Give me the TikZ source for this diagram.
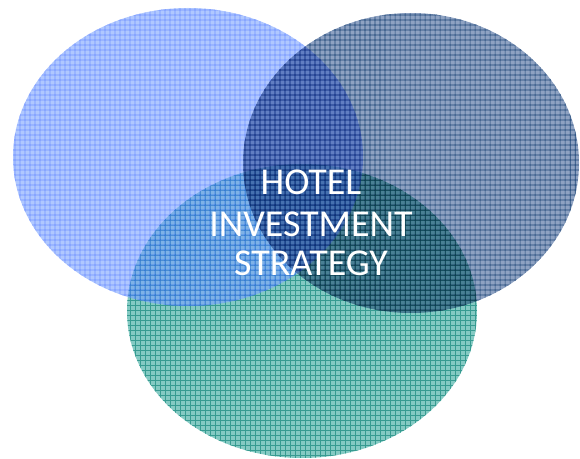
\documentclass[tikz,border=0pt]{standalone}
\usepackage{fontspec}
\setmainfont{Carlito}
\usepackage{tikz}
\usetikzlibrary{backgrounds}
\definecolor{leftfill}{RGB}{123,163,255}
\definecolor{leftgrid}{RGB}{20,75,255}
\definecolor{rightfill}{RGB}{142,162,194}
\definecolor{rightgrid}{RGB}{30,70,120}
\definecolor{lowfill}{RGB}{132,202,195}
\definecolor{lowgrid}{RGB}{55,155,145}
\tikzstyle{gridlines}=[line width=0.5pt]
\tikzstyle{titletext}=[text=white,font=\fontsize{27}{30}\selectfont,anchor=base,inner sep=0pt]

\begin{document}
\begin{tikzpicture}[x=0.025cm,y=-0.025cm]
		\useasboundingbox (0,0) rectangle (580,459);
		% lower circle
		\begin{scope}
		\clip (302,311) ellipse (175 and 147);
		\fill[lowfill] (0,0) rectangle (580,459);
		\draw[gridlines,lowgrid,step=0.125cm] (0,0) grid (580,459);
		\end{scope}
		% left circle
		\begin{scope}[opacity=0.6]
		\begin{scope}[transparency group]
		\clip (188,157) ellipse (175 and 149);
		\fill[leftfill] (0,0) rectangle (580,459);
		\draw[gridlines,leftgrid,step=0.125cm] (0,0) grid (580,459);
		\end{scope}
		\end{scope}
		% right circle
		\begin{scope}[blend mode=multiply]
		\begin{scope}[transparency group]
		\clip (411,163) ellipse (168 and 150);
		\fill[rightfill] (0,0) rectangle (580,459);
		\draw[gridlines,rightgrid,step=0.125cm] (0,0) grid (580,459);
		\end{scope}
		\end{scope}
		\node[titletext] (hotel) at (311,195) {HOTEL};
		\node[titletext] (investment) at (311,237) {INVESTMENT};
		\node[titletext] (strategy) at (311,276) {STRATEGY};
	\end{tikzpicture}
\end{document}
